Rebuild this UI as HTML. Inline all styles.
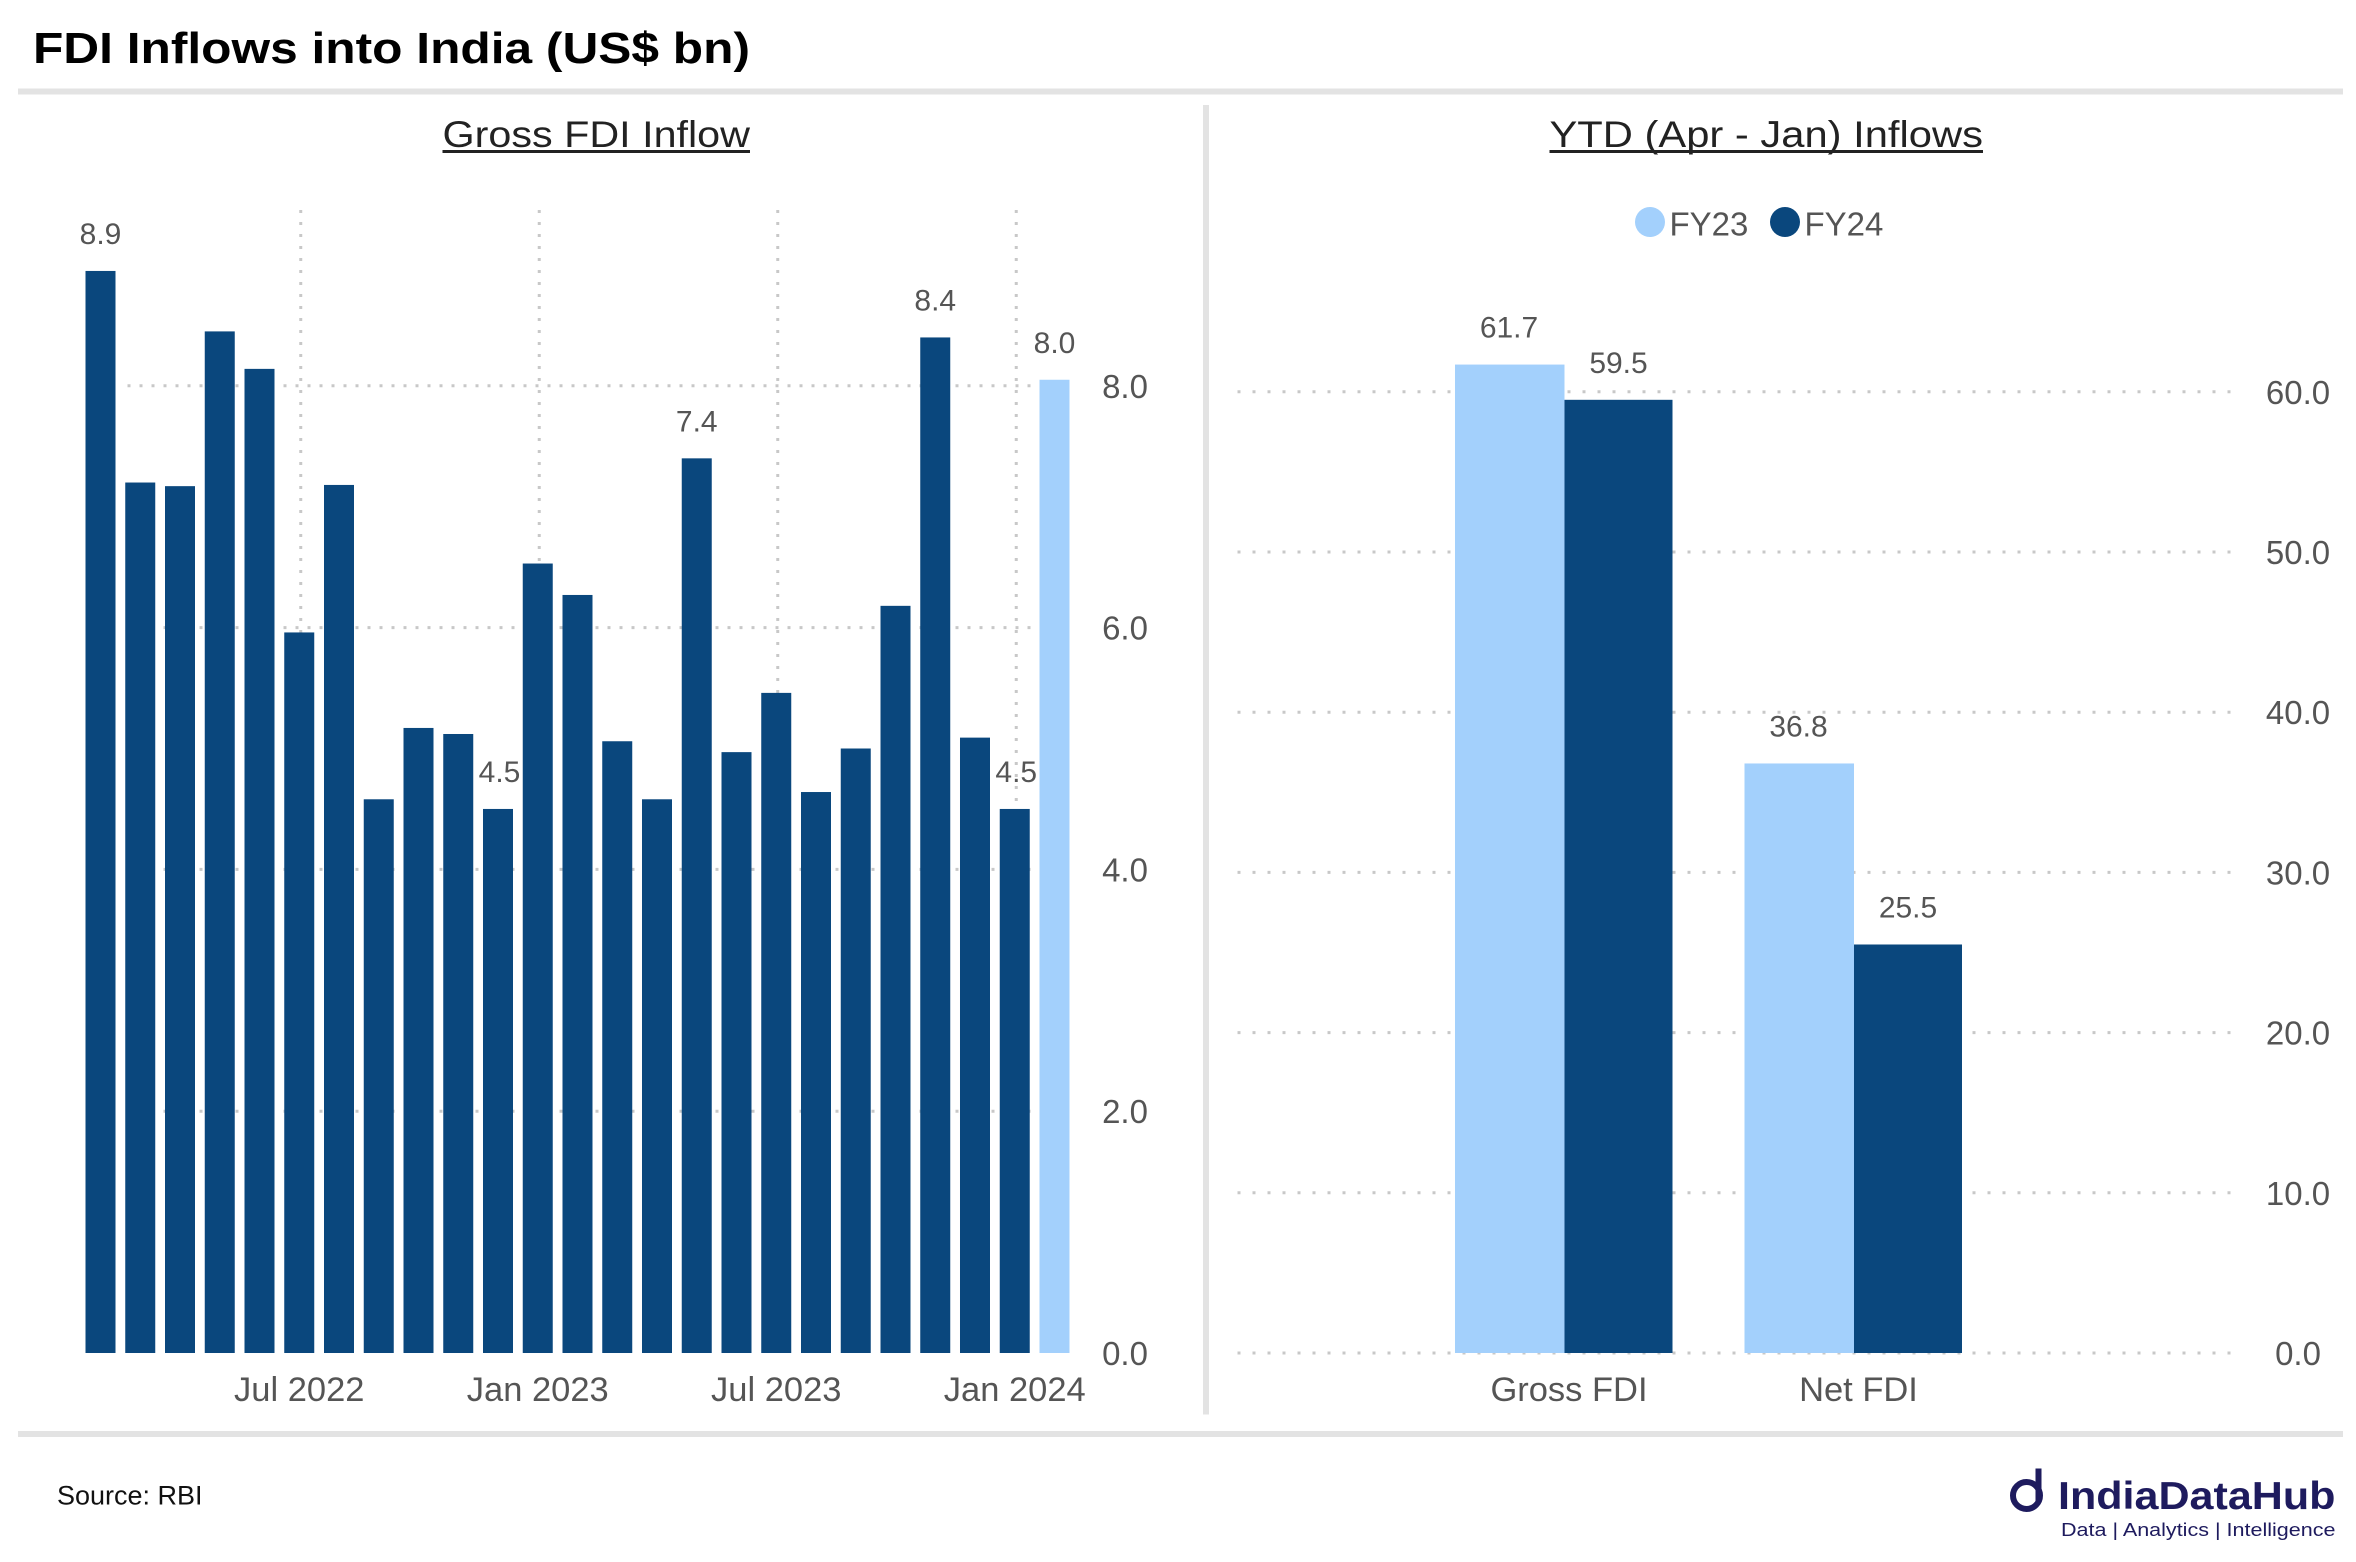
<!DOCTYPE html>
<html><head><meta charset="utf-8">
<style>
html,body{margin:0;padding:0;background:#fff;}
svg{display:block;font-family:"Liberation Sans",sans-serif;}
</style></head>
<body>
<svg id="chart" width="2356" height="1562" viewBox="0 0 1570.67 1041.33" xmlns="http://www.w3.org/2000/svg">
<rect x="0" y="0" width="1570.67" height="1041.33" fill="#fff"/>
<text x="22" y="42" font-size="29" font-weight="bold" fill="#000" textLength="478" lengthAdjust="spacingAndGlyphs">FDI Inflows into India (US$ bn)</text>
<rect x="12" y="59" width="1550" height="4" fill="#e3e3e3"/>
<rect x="802" y="70" width="4" height="873" fill="#e3e3e3"/>
<rect x="12" y="954" width="1550" height="4" fill="#e3e3e3"/>
<text x="295" y="98" font-size="25" fill="#222" textLength="205" lengthAdjust="spacingAndGlyphs">Gross FDI Inflow</text>
<line x1="295" y1="101" x2="500" y2="101" stroke="#222" stroke-width="2"/>
<text x="1033" y="98" font-size="25" fill="#222" textLength="289" lengthAdjust="spacingAndGlyphs">YTD (Apr - Jan) Inflows</text>
<line x1="1033" y1="101" x2="1322" y2="101" stroke="#222" stroke-width="2"/>
<g id="left"></g>
<g id="right"></g>
<circle cx="1100" cy="148" r="10" fill="#a3d0fc"/>
<text x="1113" y="157" font-size="22" fill="#555">FY23</text>
<circle cx="1190" cy="148" r="10" fill="#0a477d"/>
<text x="1203" y="157" font-size="22" fill="#555">FY24</text>
<text x="38" y="1003" font-size="18" fill="#111">Source: RBI</text>
<g>
<circle cx="1351" cy="997" r="9" fill="none" stroke="#1e1b5e" stroke-width="4"/>
<rect x="1357" y="979" width="4" height="22" fill="#1e1b5e"/>
<text x="1372" y="1006" font-size="26" font-weight="bold" fill="#1e1b5e" textLength="185" lengthAdjust="spacingAndGlyphs">IndiaDataHub</text>
<text x="1374" y="1024" font-size="12.5" fill="#1e1b5e" textLength="183" lengthAdjust="spacingAndGlyphs">Data | Analytics | Intelligence</text>
</g>
</svg>
<script>
const monthCats = ["Feb 2022","Mar 2022","Apr 2022","May 2022","Jun 2022","Jul 2022","Aug 2022","Sep 2022","Oct 2022","Nov 2022","Dec 2022","Jan 2023","Feb 2023","Mar 2023","Apr 2023","May 2023","Jun 2023","Jul 2023","Aug 2023","Sep 2023","Oct 2023","Nov 2023","Dec 2023","Jan 2024","YTD avg"];
const monthVals = [8.95,7.2,7.17,8.45,8.14,5.96,7.18,4.58,5.17,5.12,4.5,6.53,6.27,5.06,4.58,7.4,4.97,5.46,4.64,5.0,6.18,8.4,5.09,4.5,8.05];
const monthLabels = ["8.9","","","","","","","","","","4.5","","","","","7.4","","","","","","8.4","","4.5","8.0"];
const leftTicks = [0,2,4,6,8];
const leftXTicks = ["Jul 2022","Jan 2023","Jul 2023","Jan 2024"];
const ytdCats = ["Gross FDI","Net FDI"];
const fy23Vals = [61.7,36.8];
const fy24Vals = [59.5,25.5];
const rightTicks = [0,10,20,30,40,50,60];

const NS="http://www.w3.org/2000/svg";
function mk(parent,tag,attrs,txt){const e=document.createElementNS(NS,tag);for(const k in attrs)e.setAttribute(k,attrs[k]);if(txt!==undefined)e.textContent=txt;parent.appendChild(e);return e;}

const L=document.getElementById('left');
const lBase=902, lPer=80.6;
const ly=v=>lBase-v*lPer;
const lx=i=>57+i*26.5;
leftTicks.forEach(t=>{
  if(t>0){const g=mk(L,'line',{x1:85,x2:716,y1:ly(t),y2:ly(t),stroke:'#c8c8c8','stroke-width':2,'stroke-dasharray':'2 6'});
  
  }
  const tx=mk(L,'text',{x:750,y:ly(t)+8,'font-size':22,fill:'#555','text-anchor':'middle'},t.toFixed(1));
  
  
});
leftXTicks.forEach(lbl=>{
  const i=monthCats.indexOf(lbl);
  const cx=lx(i)+10;
  const g=mk(L,'line',{x1:cx+1,x2:cx+1,y1:140,y2:902,stroke:'#c8c8c8','stroke-width':2,'stroke-dasharray':'2 6'});
  
  
  const t=mk(L,'text',{x:cx,y:934,'font-size':23,fill:'#555','text-anchor':'middle'},lbl);
  
  
});
monthVals.forEach((v,i)=>{
  const last=i===monthVals.length-1;
  const r=mk(L,'rect',{x:lx(i),y:ly(v),width:20,height:v*lPer,fill:last?'#a3d0fc':'#0a477d'});
  
  
  if(monthLabels[i]){
    const t=mk(L,'text',{x:lx(i)+10+(v<5?1:0),y:ly(v)-18,'font-size':20,fill:'#555','text-anchor':'middle'},monthLabels[i]);
    
    
  }
});

const R=document.getElementById('right');
const rBase=902, rPer=10.68;
const ry=v=>rBase-v*rPer;
const rx=i=>970+i*193;
rightTicks.forEach(t=>{
  const g=mk(R,'line',{x1:825,x2:1492,y1:ry(t),y2:ry(t),stroke:'#c8c8c8','stroke-width':2,'stroke-dasharray':'2 8'});
  
  
  const tx=mk(R,'text',{x:1532,y:ry(t)+8,'font-size':22,fill:'#555','text-anchor':'middle'},t.toFixed(1));
  
  
});
ytdCats.forEach((c,i)=>{
  const x=rx(i);
  const a=mk(R,'rect',{x:x,y:ry(fy23Vals[i]),width:73,height:fy23Vals[i]*rPer,fill:'#a3d0fc'});
  
  
  const b=mk(R,'rect',{x:x+73,y:ry(fy24Vals[i]),width:72,height:fy24Vals[i]*rPer,fill:'#0a477d'});
  
  
  const la=mk(R,'text',{x:x+36,y:ry(fy23Vals[i])-18,'font-size':20,fill:'#555','text-anchor':'middle'},fy23Vals[i].toFixed(1));
  
  
  const lb=mk(R,'text',{x:x+109,y:ry(fy24Vals[i])-18,'font-size':20,fill:'#555','text-anchor':'middle'},fy24Vals[i].toFixed(1));
  
  
  const ct=mk(R,'text',{x:x+76,y:934,'font-size':23,fill:'#555','text-anchor':'middle'},c);
  
  
});
</script>
</body></html>
